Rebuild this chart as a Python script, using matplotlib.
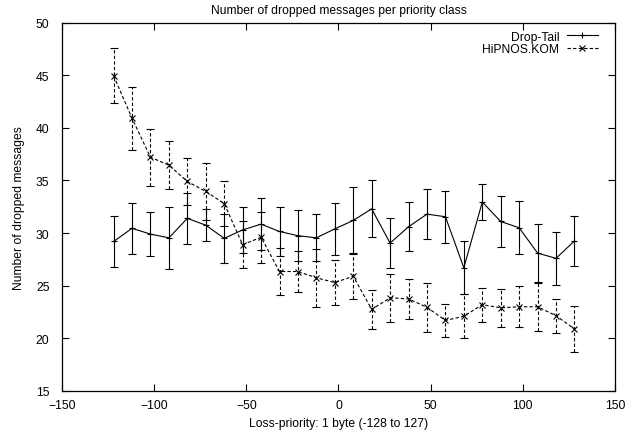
import matplotlib
matplotlib.use("Agg")
import matplotlib.pyplot as plt
from matplotlib.lines import Line2D

plt.rcParams['font.family'] = ['Liberation Sans', 'DejaVu Sans']
plt.rcParams['font.size'] = 8.7

x = [-122, -112, -102, -92, -82, -72, -62, -52, -42, -32, -22, -12, -2,
     8, 18, 28, 38, 48, 58, 68, 78, 88, 98, 108, 118, 128]

drop_tail = [29.2, 30.45, 29.9, 29.55, 31.4, 30.75, 29.5, 30.3, 30.85, 30.15,
             29.75, 29.55, 30.4, 31.2, 32.3, 29.05, 30.6, 31.8, 31.55, 26.7,
             32.95, 31.1, 30.5, 28.1, 27.6, 29.25]
drop_tail_err = [2.45, 2.45, 2.1, 2.95, 2.4, 1.55, 2.3, 2.2, 2.5, 2.3,
                 2.45, 2.25, 2.5, 3.2, 2.7, 2.4, 2.35, 2.4, 2.45, 2.5,
                 1.7, 2.45, 2.5, 2.75, 2.5, 2.4]

hipnos = [44.95, 40.9, 37.2, 36.45, 34.9, 33.95, 32.8, 28.9, 29.6, 26.35,
          26.35, 25.75, 25.3, 25.9, 22.75, 23.85, 23.75, 22.95, 21.7, 22.1,
          23.2, 22.9, 23.0, 23.0, 22.15, 20.9]
hipnos_err = [2.6, 3.0, 2.7, 2.3, 2.25, 2.7, 2.1, 2.2, 2.4, 2.2,
              1.95, 2.75, 2.15, 2.2, 1.85, 2.25, 1.9, 2.3, 1.6, 2.1,
              1.6, 1.8, 1.95, 2.3, 1.6, 2.2]

fig = plt.figure(figsize=(6.39, 4.31), dpi=100)
ax = fig.add_axes([62/639, 1 - 392/431, (615-62)/639, (392-23.5)/431])

ax.errorbar(x, drop_tail, yerr=drop_tail_err, color='black', lw=0.8,
            elinewidth=0.8, capsize=3, capthick=0.8, marker='+', ms=5,
            mew=0.8)
eb = ax.errorbar(x, hipnos, yerr=hipnos_err, color='black', lw=0.8,
                 ls=(0, (3, 2)), elinewidth=0.8, capsize=3, capthick=0.8,
                 marker='x', ms=4.5, mew=0.8)
eb[-1][0].set_linestyle((0, (3, 2)))

ax.set_xlim(-150, 150)
ax.set_ylim(15, 50)
ax.set_xticks(range(-150, 151, 50))
ax.set_yticks(range(15, 51, 5))
ax.tick_params(direction='in', top=True, right=True, length=5, width=0.8,
               labelsize=8.7)
ax.tick_params(axis='y', pad=9)
ax.tick_params(axis='x', pad=6)
for s in ax.spines.values():
    s.set_linewidth(0.9)

ax.set_title('Number of dropped messages per priority class', fontsize=8.7, pad=7)
ax.set_xlabel('Loss-priority: 1 byte (-128 to 127)', fontsize=8.7, labelpad=4)
ax.set_ylabel('Number of dropped messages', fontsize=8.7, labelpad=8)

handles = [Line2D([], [], color='black', lw=0.8, marker='+', ms=5, mew=0.8),
           Line2D([], [], color='black', lw=0.8, ls=(0, (3, 2)), marker='x',
                  ms=4.5, mew=0.8)]
ax.legend(handles, ['Drop-Tail', 'HiPNOS.KOM'], loc='upper right',
          bbox_to_anchor=(1 - 17/553, 1 - 8/368),
          frameon=False, markerfirst=False, fontsize=8.7, handlelength=2.6,
          borderaxespad=0.0, borderpad=0.0, labelspacing=0.05,
          handletextpad=0.6)

fig.savefig('out.png', dpi=100)
